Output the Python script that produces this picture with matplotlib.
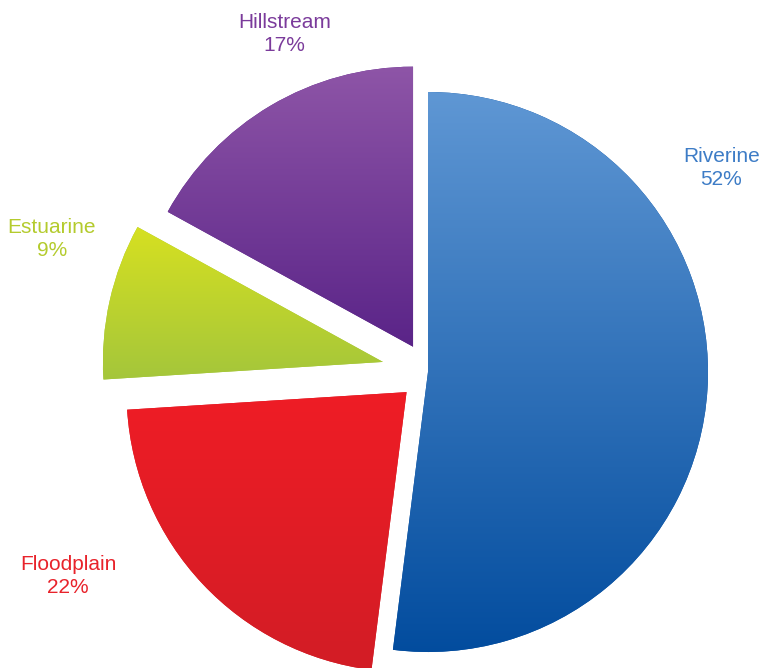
import numpy as np
import matplotlib.pyplot as plt
from matplotlib.colors import LinearSegmentedColormap

# habitat shares, clockwise from the top
labels = ['Riverine', 'Floodplain', 'Estuarine', 'Hillstream']
shares = [52, 22, 9, 17]
explode = [0.0, 0.105, 0.165, 0.105]

# gradient colours (top, bottom) and label colours
top_colors = ['#5f97d4', '#ef1d26', '#d6e021', '#8e55a7']
bottom_colors = ['#024c9e', '#d21c25', '#a4c63b', '#5a2488']
text_colors = ['#3d7cc6', '#e8232b', '#b4cb2d', '#7b3b9b']

# label anchor points in figure fractions
label_pos = [(0.933, 0.748), (0.088, 0.138), (0.067, 0.642), (0.368, 0.949)]

fig = plt.figure(figsize=(7.73, 6.68), dpi=100)
ax = fig.add_axes([0, 0, 1, 1])

wedges, _ = ax.pie(shares, explode=explode, startangle=90, counterclock=False,
                   colors=top_colors, radius=1.0,
                   wedgeprops=dict(linewidth=0))

# vertical gradient fill clipped to each wedge
for w, c0, c1 in zip(wedges, top_colors, bottom_colors):
    cmap = LinearSegmentedColormap.from_list('g', [c1, c0])
    verts = w.get_path().vertices
    x0, y0 = verts.min(axis=0)
    x1, y1 = verts.max(axis=0)
    grad = np.linspace(0, 1, 256).reshape(-1, 1)
    im = ax.imshow(grad, cmap=cmap, origin='lower', aspect='auto',
                   extent=(x0, x1, y0, y1), zorder=2, interpolation='bicubic')
    im.set_clip_path(w)
    w.set_facecolor(c1)

# pixel layout: centre at (428, 372), radius 280 px
scale = 280.0
ax.set_xlim(-428 / scale, (773 - 428) / scale)
ax.set_ylim(-(668 - 372) / scale, 372 / scale)
ax.axis('off')

for lab, val, (fx, fy), col in zip(labels, shares, label_pos, text_colors):
    fig.text(fx, fy, f'{lab}\n{val}%', ha='center', va='center', color=col,
             fontsize=15, family='Liberation Sans', linespacing=1.25)

fig.savefig('out.png', dpi=100)
